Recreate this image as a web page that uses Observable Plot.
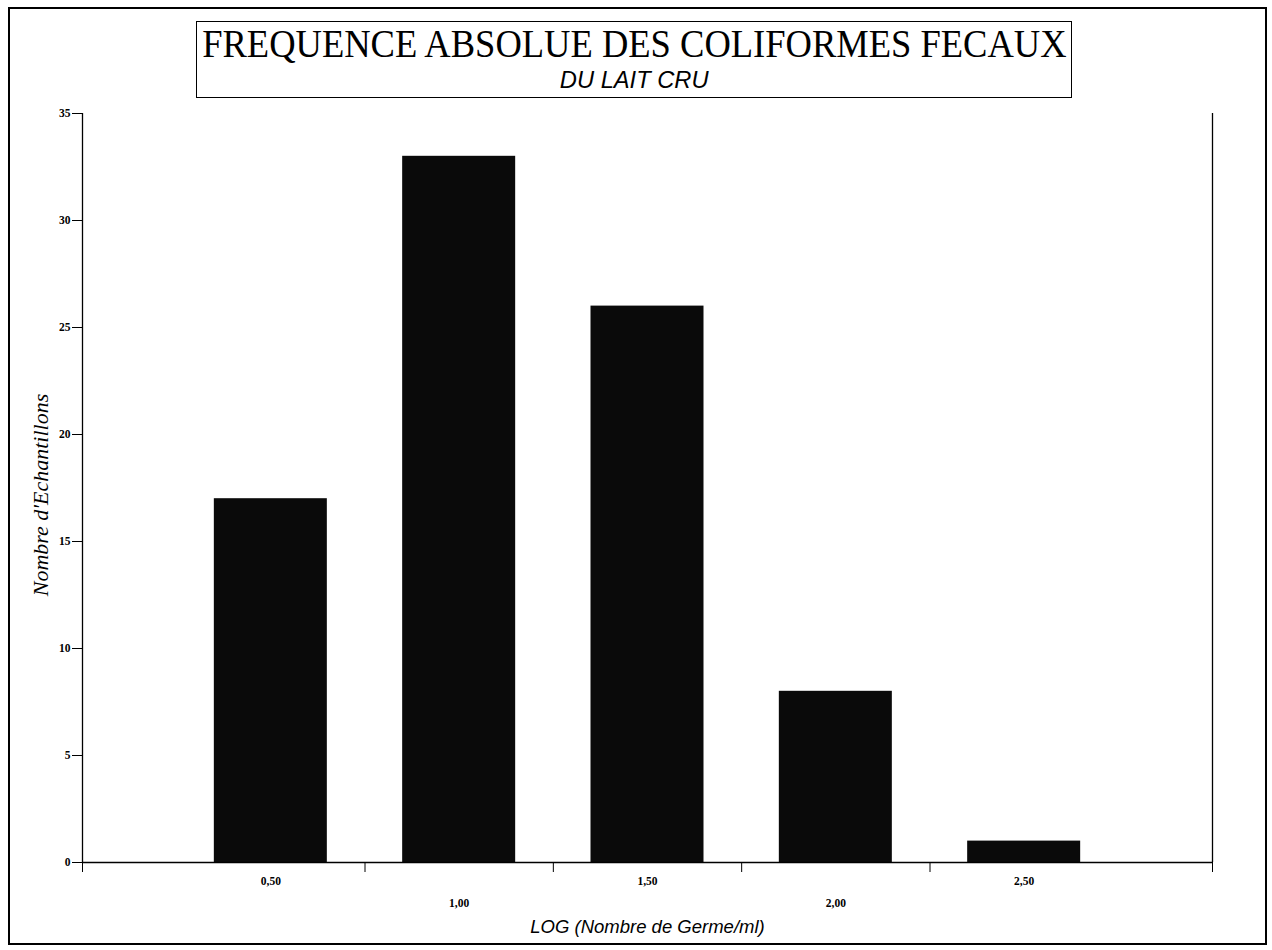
<!DOCTYPE html>
<html>
<head>
<meta charset="utf-8">
<script src="https://cdn.jsdelivr.net/npm/d3@7"></script>
<script src="https://cdn.jsdelivr.net/npm/@observablehq/plot@0.6"></script>
<style>
  html, body { margin: 0; padding: 0; background: #fff; }
  #wrap { position: relative; width: 1272px; height: 950px; overflow: hidden; }
  #border { position: absolute; left: 8px; top: 7px; width: 1259px; height: 938px; border: 2px solid #000; box-sizing: border-box; }
  #titlebox { position: absolute; left: 196px; top: 21px; width: 876px; height: 77px; border: 1.5px solid #000; box-sizing: border-box; background: #fff; }
  .line { position: absolute; left: 0; right: 0; display: flex; justify-content: center; white-space: nowrap; }
  .line span { display: inline-block; flex: none; transform-origin: center; }
  #t1 { top: 2px; font-family: "Liberation Serif", "Times New Roman", serif; font-size: 40px; line-height: 40px; }
  #t1 span { transform: scaleX(0.913); }
  #t2 { top: 45.5px; font-family: "Liberation Sans", Arial, sans-serif; font-style: italic; font-size: 23px; line-height: 24px; }
  #t2 span { transform: scaleX(1.03); }
  #plot { position: absolute; left: 0; top: 0; }
</style>
</head>
<body>
<div id="wrap">
  <div id="plot"></div>
  <div id="border"></div>
  <div id="titlebox">
    <div id="t1" class="line"><span>FREQUENCE ABSOLUE DES COLIFORMES FECAUX</span></div>
    <div id="t2" class="line"><span>DU LAIT CRU</span></div>
  </div>
</div>
<script>
// Data
const classes = [0.5, 1.0, 1.5, 2.0, 2.5];
const counts = [17, 33, 26, 8, 1];
const yTicks = [0, 5, 10, 15, 20, 25, 30, 35];
const xLabelsUpper = [0.5, 1.5, 2.5];
const xLabelsLower = [1.0, 2.0];
const xBoundaryTicks = [0, 0.75, 1.25, 1.75, 2.25, 3];
const barHalfWidth = 0.15;
const yTitle = "Nombre d'Echantillons";
const xTitle = "LOG (Nombre de Germe/ml)";

const data = classes.map((c, i) => ({cls: c, n: counts[i]}));
const fmt = d => d.toFixed(2).replace(".", ",");

const serifTick = {fontFamily: "Liberation Serif, serif", fontWeight: "bold", fontSize: 11.5};

const chart = Plot.plot({
  width: 1272,
  height: 950,
  marginLeft: 82,
  marginRight: 60,
  marginTop: 113,
  marginBottom: 88,
  style: {background: "transparent", color: "#000"},
  x: {domain: [0, 3]},
  y: {domain: [0, 35]},
  marks: [
    Plot.rectY(data, {
      x1: d => d.cls - barHalfWidth,
      x2: d => d.cls + barHalfWidth,
      y1: 0,
      y2: "n",
      fill: "#0a0a0a"
    }),
    Plot.ruleX([0, 3], {stroke: "#000", strokeWidth: 1.3}),
    Plot.ruleY([0], {stroke: "#000", strokeWidth: 1.3}),
    Plot.axisY({
      ticks: yTicks,
      tickSize: 10,
      tickPadding: 2,
      tickFormat: d => String(d),
      label: null,
      ...serifTick
    }),
    Plot.axisX({
      ticks: xBoundaryTicks,
      tickSize: 10,
      tickFormat: () => "",
      label: null
    }),
    Plot.axisX({
      ticks: xLabelsUpper,
      tickSize: 0,
      tickPadding: 14,
      tickFormat: fmt,
      label: null,
      ...serifTick
    }),
    Plot.axisX({
      ticks: xLabelsLower,
      tickSize: 0,
      tickPadding: 36,
      tickFormat: fmt,
      label: null,
      ...serifTick
    }),
    Plot.text([yTitle], {
      frameAnchor: "left",
      dx: -42,
      dy: 7,
      rotate: -90,
      textAnchor: "middle",
      lineAnchor: "middle",
      fontFamily: "Liberation Serif, serif",
      fontStyle: "italic",
      fontSize: 22,
      fill: "#000"
    }),
    Plot.text([xTitle], {
      frameAnchor: "bottom",
      dy: 65,
      textAnchor: "middle",
      lineAnchor: "middle",
      fontFamily: "Liberation Sans, Arial, sans-serif",
      fontStyle: "italic",
      fontSize: 18.5,
      fill: "#000"
    })
  ]
});

document.getElementById("plot").appendChild(chart);
</script>
</body>
</html>
